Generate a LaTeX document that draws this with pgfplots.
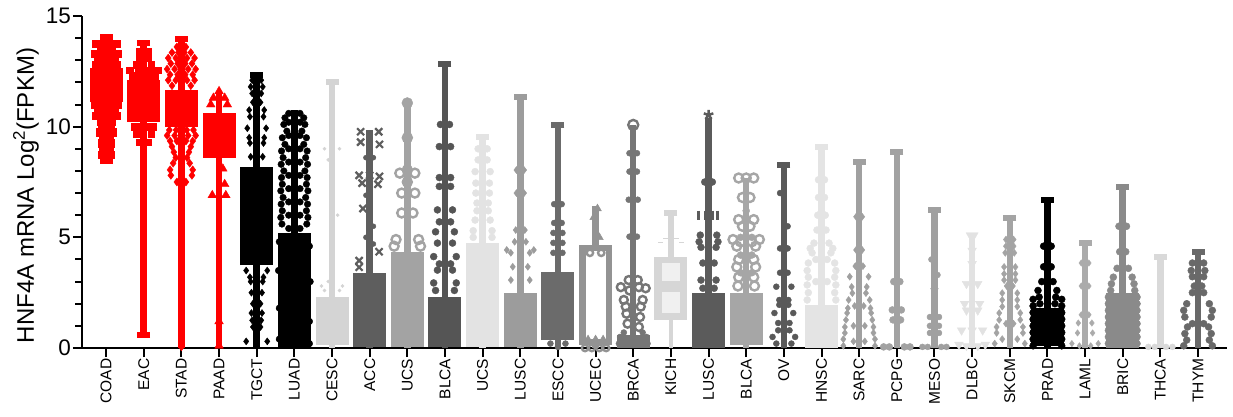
\documentclass[border=0pt]{standalone}
\usepackage{pgfplots}
\pgfplotsset{compat=1.18}
\usepackage{fontspec}
\setmainfont{Liberation Sans}

\definecolor{cRed}{RGB}{255,0,0}
\definecolor{cBlk}{RGB}{0,0,0}
\definecolor{cCESC}{HTML}{D4D4D4}
\definecolor{cACC}{HTML}{5E5E5E}
\definecolor{cUCSa}{HTML}{A3A3A3}
\definecolor{cBLCAa}{HTML}{555555}
\definecolor{cUCSb}{HTML}{E3E3E3}
\definecolor{cLUSCa}{HTML}{9C9C9C}
\definecolor{cESCC}{HTML}{6B6B6B}
\definecolor{cUCEC}{HTML}{939393}
\definecolor{cBRCA}{HTML}{767676}
\definecolor{cKICH}{HTML}{D6D6D6}
\definecolor{cKICHin}{HTML}{F0F0F0}
\definecolor{cLUSCb}{HTML}{5B5B5B}
\definecolor{cBLCAb}{HTML}{A6A6A6}
\definecolor{cOV}{HTML}{595959}
\definecolor{cHNSC}{HTML}{E4E4E4}
\definecolor{cSARC}{HTML}{A0A0A0}
\definecolor{cPCPG}{HTML}{A2A2A2}
\definecolor{cMESO}{HTML}{A0A0A0}
\definecolor{cDLBC}{HTML}{E2E2E2}
\definecolor{cSKCM}{HTML}{A4A4A4}
\definecolor{cLAML}{HTML}{ABABAB}
\definecolor{cBRIC}{HTML}{8A8A8A}
\definecolor{cTHCA}{HTML}{D9D9D9}
\definecolor{cTHYM}{HTML}{696969}

% whisker: position, min, max, colour
\newcommand{\whisk}[4]{\addplot[color=#4, line width=6.5pt] coordinates {(#1,#2) (#1,#3)};}
% interquartile box: position, Q1, Q3, colour
\newcommand{\bx}[4]{\addplot[color=#4, line width=33pt] coordinates {(#1,#2) (#1,#3)};}
% whisker caps: colour, points
\newcommand{\caps}[2]{\addplot[color=#1, only marks, mark=-, mark size=6.5pt, mark options={line width=6pt}] coordinates {#2};}
% individual samples: colour, mark, size, points
\newcommand{\pts}[4]{\addplot[color=#1, only marks, mark=#2, mark size=#3] coordinates {#4};}
% ring samples: colour, size, points
\newcommand{\rings}[3]{\addplot[color=#1, only marks, mark=o, mark size=#2, mark options={line width=2.4pt}] coordinates {#3};}

\begin{document}
\begin{tikzpicture}
\useasboundingbox (-82pt,-68pt) rectangle (1151pt,348pt);
\begin{axis}[
  at={(0,0)}, anchor=south west,
  scale only axis, width=1145pt, height=332pt,
  xmin=-0.64, xmax=29.77, ymin=0, ymax=15,
  clip=false,
  axis x line*=bottom, axis y line*=left,
  axis line style={line width=2pt, black},
  tick align=outside,
  major tick length=9pt, minor tick length=6.5pt,
  every tick/.style={black, line width=2pt},
  ytick={0,5,10,15}, minor y tick num=4,
  xtick={0,...,29},
  xticklabels={COAD,EAC,STAD,PAAD,TGCT,LUAD,CESC,ACC,UCS,BLCA,UCS,LUSC,ESCC,UCEC,BRCA,KICH,LUSC,BLCA,OV,HNSC,SARC,PCPG,MESO,DLBC,SKCM,PRAD,LAML,BRIC,THCA,THYM},
  xticklabel style={rotate=90, anchor=east, inner sep=1.5pt, font=\fontsize{15.5}{16}\selectfont},
  y tick label style={inner sep=2pt, font=\fontsize{22.5}{24}\selectfont},
  /pgf/number format/assume math mode=true,
  ylabel={HNF4A mRNA Log\textsuperscript{2}(FPKM)},
  ylabel style={at={(axis description cs:-0.049,0.459)}, anchor=center, font=\fontsize{24}{26}\selectfont},
]

% ---------- COAD ----------
\whisk{0}{8.45}{14.05}{cRed}
\bx{0}{11.1}{12.65}{cRed}
\caps{cRed}{(0,8.45) (0,14.05)}
\pts{cRed}{square*}{3.6pt}{(-0.28,12.8)(-0.1,12.8)(0.1,12.8)(0.28,12.8)(-0.22,13.05)(-0.07,13.05)(0.07,13.05)(0.22,13.05)(-0.3,13.3)(-0.1,13.3)(0.1,13.3)(0.3,13.3)(-0.15,13.55)(0,13.55)(0.15,13.55)(-0.28,13.75)(-0.1,13.75)(0.1,13.75)(0.28,13.75)
(-0.3,11.0)(-0.1,11.0)(0.1,11.0)(0.3,11.0)(-0.22,10.75)(-0.07,10.75)(0.07,10.75)(0.22,10.75)(-0.28,10.5)(-0.1,10.5)(0.1,10.5)(0.28,10.5)(-0.15,10.25)(0.15,10.25)(-0.12,10.0)(0.12,10.0)(-0.18,9.75)(0.18,9.75)(-0.1,9.5)(0.1,9.5)(-0.12,9.25)(0.12,9.25)(-0.08,9.0)(0.08,9.0)(-0.12,8.75)(0.12,8.75)}

% ---------- EAC ----------
\whisk{1}{0.59}{13.77}{cRed}
\bx{1}{10.23}{12.11}{cRed}
\caps{cRed}{(1,0.59) (1,13.77)}
\pts{cRed}{square*}{3.4pt}{(0.7,12.3)(0.9,12.3)(1.1,12.3)(1.3,12.3)(0.62,12.55)(0.85,12.55)(1.15,12.55)(1.38,12.55)(0.8,12.8)(1.2,12.8)(0.88,13.1)(1.12,13.1)(0.9,13.4)(1.1,13.4)
(0.75,10.0)(0.92,10.0)(1.08,10.0)(1.25,10.0)(0.8,9.7)(1.2,9.7)(0.9,9.3)(1.1,9.3)}

% ---------- STAD ----------
\whisk{2}{0}{13.95}{cRed}
\bx{2}{10.0}{11.66}{cRed}
\caps{cRed}{(2,13.95)}
\pts{cRed}{diamond*}{4pt}{(1.88,13.6)(2.12,13.6)(1.75,13.35)(1.92,13.35)(2.08,13.35)(2.25,13.35)(1.65,13.1)(1.85,13.1)(2.15,13.1)(2.35,13.1)(1.72,12.85)(1.9,12.85)(2.1,12.85)(2.28,12.85)(1.62,12.6)(1.82,12.6)(2.18,12.6)(2.38,12.6)(1.7,12.35)(1.9,12.35)(2.1,12.35)(2.3,12.35)(1.65,12.1)(1.85,12.1)(2.15,12.1)(2.35,12.1)(1.75,11.85)(2.25,11.85)
(1.68,9.85)(1.86,9.85)(2.14,9.85)(2.32,9.85)(1.62,9.6)(1.82,9.6)(2.18,9.6)(2.38,9.6)(1.7,9.35)(1.88,9.35)(2.12,9.35)(2.3,9.35)(1.75,9.1)(2.25,9.1)(1.8,8.85)(2.2,8.85)(1.85,8.6)(2.15,8.6)(1.78,8.35)(2.22,8.35)(1.7,8.05)(2.3,8.05)(1.72,7.8)(2.28,7.8)(1.88,7.5)(2.12,7.5)(2,7.0)(2,5.5)(2,3.0)(2,0.05)}

% ---------- PAAD ----------
\whisk{3}{0}{11.5}{cRed}
\bx{3}{8.6}{10.6}{cRed}
\pts{cRed}{triangle*}{5pt}{(3,11.6)(2.85,11.3)(3.15,11.3)(2.78,11.0)(3.22,11.0)(3.1,8.1)(3.15,7.4)(2.82,6.9)(3.18,6.9)(3,6.9)(3,1.2)(3,0.1)}

% ---------- TGCT ----------
\whisk{4}{0}{12.34}{cBlk}
\bx{4}{3.75}{8.2}{cBlk}
\caps{cBlk}{(4,12.34)}
\pts{cBlk}{diamond*}{3.5pt}{(3.84,11.8)(4.16,11.8)(3.88,11.5)(4.12,11.5)(3.8,10.75)(4.2,10.75)(3.82,10.45)(4.18,10.45)(3.75,9.93)(4.25,9.93)(3.8,9.5)(4.2,9.5)(3.82,9.26)(4.18,9.26)(3.84,8.64)(4.16,8.64)(3.88,12.1)(4.12,12.1)(3.9,11.1)(4.1,11.1)
(3.72,3.5)(4.28,3.5)(3.82,3.2)(4.18,3.2)(3.84,3.0)(4.16,3.0)(3.86,2.5)(4.14,2.5)(3.9,2.0)(4.1,2.0)(3.86,1.58)(4.14,1.58)(3.9,0.95)(4.1,0.95)(3.72,0.3)(4.28,0.3)(3.88,1.25)(4.12,1.25)}

% ---------- LUAD ----------
\whisk{5}{0}{10.75}{cBlk}
\bx{5}{0}{5.2}{cBlk}
\pts{cBlk}{*}{3.3pt}{(4.85,10.6)(5.15,10.6)(4.75,10.4)(5.25,10.4)(4.72,10.1)(5.28,10.1)(4.8,9.8)(5.2,9.8)(4.68,9.5)(5.32,9.5)(4.75,9.2)(5.25,9.2)(4.66,8.9)(5.34,8.9)(4.7,8.6)(5.3,8.6)(4.65,8.3)(5.35,8.3)(4.72,8.0)(5.28,8.0)(4.66,7.7)(5.34,7.7)(4.68,7.4)(5.32,7.4)(4.64,7.1)(5.36,7.1)(4.7,6.8)(5.3,6.8)(4.65,6.5)(5.35,6.5)(4.68,6.2)(5.32,6.2)(4.64,5.9)(5.36,5.9)(4.67,5.6)(5.33,5.6)
(4.85,10.2)(5.15,10.2)(4.85,9.6)(5.15,9.6)(4.85,9.0)(5.15,9.0)(4.85,8.4)(5.15,8.4)(4.85,7.8)(5.15,7.8)(4.85,7.2)(5.15,7.2)(4.85,6.6)(5.15,6.6)(4.85,6.0)(5.15,6.0)(4.85,5.4)(5.15,5.4)
(4.6,4.8)(5.4,4.6)(4.58,3.5)(5.42,3.0)(4.6,1.8)(5.4,1.2)(4.6,0.4)(5.4,0.2)}

% ---------- CESC ----------
\whisk{6}{0}{12.03}{cCESC}
\bx{6}{0.14}{2.32}{cCESC}
\caps{cCESC}{(6,12.03)}
\pts{cCESC}{*}{1.6pt}{(5.8,9.0)(6.2,9.0)(5.9,8.5)(6.15,6.0)(5.9,3.0)(5.72,2.8)(6.28,2.8)(5.8,2.6)(6.2,2.6)}

% ---------- ACC ----------
\whisk{7}{0}{9.85}{cACC}
\bx{7}{0.06}{3.39}{cACC}
\addplot[color=cACC, only marks, mark=x, mark size=5pt, mark options={line width=2.2pt}] coordinates {(6.76,9.77)(7.24,9.77)(6.76,9.3)(7.26,9.2)(6.72,7.8)(7,7.8)(7.26,7.75)(6.8,7.45)(7.22,7.4)(6.82,6.3)(7.25,4.35)(6.72,3.95)(6.72,3.65)};
\pts{cACC}{*}{2.5pt}{(6.9,8.6)(7.1,8.6)(6.9,6.9)(7.1,5.5)(6.9,5.0)(7.1,4.7)}

% ---------- UCS ----------
\whisk{8}{0}{11.07}{cUCSa}
\bx{8}{0.06}{4.35}{cUCSa}
\pts{cUCSa}{*}{5.5pt}{(8,11.07)}
\rings{cUCSa}{4.5pt}{(8,8.04)(7.8,7.9)(8.2,7.9)(7.85,7.0)(8.2,7.0)(7.85,6.1)(8.15,6.1)(7.7,4.9)(8.3,4.9)(7.65,4.6)(8.35,4.6)(8,9.5)(8,7.5)}

% ---------- BLCA ----------
\whisk{9}{0}{12.83}{cBLCAa}
\bx{9}{0.06}{2.32}{cBLCAa}
\caps{cBLCAa}{(9,12.83)}
\pts{cBLCAa}{*}{3.5pt}{(8.88,10.1)(9.12,10.1)(8.85,9.1)(9.15,9.1)(8.85,7.7)(9.15,7.7)(8.85,7.3)(9.15,7.3)(8.8,6.24)(9.2,6.24)(8.75,5.25)(9.25,5.25)(8.8,4.74)(9.2,4.74)(8.7,4.13)(9.3,4.13)(8.8,3.52)(9.2,3.52)(8.7,2.94)(9.3,2.94)(8.85,5.7)(9.15,5.7)(8.85,3.8)(9.15,3.8)(8.75,2.6)(9.25,2.6)}

% ---------- UCS ----------
\whisk{10}{0}{9.55}{cUCSb}
\bx{10}{0.06}{4.74}{cUCSb}
\caps{cUCSb}{(10,9.55)}
\pts{cUCSb}{*}{3.5pt}{(9.88,8.5)(10.12,8.5)(9.8,7.97)(10.2,7.97)(9.82,7.45)(10.18,7.45)(9.82,7.0)(10.18,7.0)(9.85,6.55)(10.15,6.55)(9.8,5.78)(10.2,5.78)(9.75,5.3)(10.25,5.3)(9.75,5.0)(10.25,5.0)(9.85,6.2)(10.15,6.2)(9.88,9.0)(10.12,9.0)}

% ---------- LUSC ----------
\whisk{11}{0}{11.36}{cLUSCa}
\bx{11}{0.06}{2.48}{cLUSCa}
\caps{cLUSCa}{(11,11.36)}
\pts{cLUSCa}{diamond*}{3.5pt}{(10.9,8.04)(11.1,8.04)(10.88,5.33)(11.12,5.33)(10.64,4.43)(11.36,4.43)(10.75,4.3)(11.25,4.3)(10.8,3.67)(11.2,3.67)(10.75,3.07)(11.25,3.07)(10.9,7.0)(11.1,7.0)(10.85,4.8)(11.15,4.8)}

% ---------- ESCC ----------
\whisk{12}{0}{10.08}{cESCC}
\bx{12}{0.36}{3.45}{cESCC}
\caps{cESCC}{(12,10.08)}
\pts{cESCC}{*}{3pt}{(11.9,5.65)(12.1,5.65)(11.88,5.2)(12.12,5.2)(11.88,4.75)(12.12,4.75)(11.88,4.3)(12.12,4.3)(11.9,6.5)(12.1,6.5)(11.8,0.2)(12.2,0.2)(12,0.05)}

% ---------- UCEC (open box) ----------
\whisk{13}{0}{6.4}{cUCEC}
\bx{13}{0.14}{4.65}{cUCEC}
\addplot[color=white, line width=20pt] coordinates {(13,0.42) (13,4.37)};
\pts{cUCEC}{triangle*}{4.5pt}{(13.05,6.3)(12.95,5.9)(13.1,5.0)}
\rings{cUCEC}{3.2pt}{(12.72,0)(12.9,0)(13.1,0)(13.28,0)(12.85,4.3)(13.15,4.3)}
\pts{cUCEC}{triangle*}{3pt}{(12.8,0.45)(13.0,0.45)(13.2,0.45)}

% ---------- BRCA ----------
\whisk{14}{0}{10.08}{cBRCA}
\bx{14}{0}{0.6}{cBRCA}
\rings{cBRCA}{5pt}{(14,10.08)}
\pts{cBRCA}{*}{3pt}{(13.9,7.97)(14.1,7.97)(13.88,6.7)(14.12,6.7)(13.9,5.03)(14.1,5.03)(13.9,8.8)(14.1,8.8)
(13.65,0.5)(14.35,0.5)(13.62,0.2)(14.38,0.2)(13.8,0.3)(14.2,0.3)(13.75,0.7)(14.25,0.7)(14,0.4)}
\rings{cBRCA}{4pt}{(13.88,3.07)(14.12,3.07)(13.67,2.75)(13.9,2.6)(14.15,2.75)(14.33,2.7)(13.75,2.17)(14.25,2.17)(13.8,1.87)(14.2,1.87)(13.82,1.55)(14.18,1.4)(13.85,1.1)(14.15,0.95)}

% ---------- KICH ----------
\addplot[color=cKICH, line width=6.5pt] coordinates {(15,4.12) (15,6.1)};
\addplot[color=cKICH, line width=4pt] coordinates {(15,0) (15,1.27)};
\bx{15}{1.27}{4.12}{cKICH}
\addplot[color=cKICHin, line width=18pt] coordinates {(15,3.03) (15,3.84)};
\addplot[color=cKICHin, line width=18pt] coordinates {(15,1.58) (15,2.54)};
\caps{cKICH}{(15,6.1)}
\pts{cKICH}{-}{2.5pt}{(14.72,4.8)(15.28,4.8)(14.86,4.95)(15.14,4.95)}

% ---------- LUSC ----------
\whisk{16}{0}{10.4}{cLUSCb}
\bx{16}{0}{2.48}{cLUSCb}
\addplot[color=cLUSCb, only marks, mark=star, mark size=5pt, mark options={line width=2.5pt}] coordinates {(16,10.53)};
\addplot[color=cLUSCb, only marks, mark=|, mark size=4.5pt, mark options={line width=2.5pt}] coordinates {(15.73,6.0)(15.92,6.0)(16.1,6.0)(16.24,6.0)};
\pts{cLUSCb}{*}{3.5pt}{(15.78,5.1)(16.22,5.1)(15.75,4.8)(16.25,4.8)(15.8,4.55)(16.2,4.55)(15.85,3.84)(16.15,3.84)(15.8,3.07)(16.2,3.07)(15.9,7.5)(16.1,7.5)(15.85,2.7)(16.15,2.7)}

% ---------- BLCA ----------
\whisk{17}{0}{7.68}{cBLCAb}
\bx{17}{0.14}{2.48}{cBLCAb}
\pts{cBLCAb}{*}{3.5pt}{(17,6.2)(16.85,5.0)(17.15,5.0)(16.85,4.2)(17.15,4.2)(16.85,3.4)(17.15,3.4)}
\rings{cBLCAb}{4.5pt}{(16.8,7.68)(17,7.68)(17.2,7.68)(16.9,6.8)(17.1,6.8)(16.8,5.8)(17.2,5.8)(16.9,5.5)(17.1,5.5)(16.65,4.9)(16.85,4.8)(17.15,4.8)(17.35,4.9)(16.75,4.6)(17.25,4.6)(16.8,4.0)(17.2,4.0)(16.75,3.66)(17.25,3.66)(16.8,3.2)(17.2,3.2)(16.78,2.8)(17.22,2.8)}

% ---------- OV ----------
\whisk{18}{0}{8.27}{cOV}
\caps{cOV}{(18,8.27)}
\pts{cOV}{*}{3pt}{(17.9,3.4)(18.1,3.4)(17.8,2.77)(18.2,2.77)(17.88,2.17)(18.12,2.17)(17.88,1.95)(18.12,1.95)(17.75,1.58)(18.25,1.58)(17.85,1.13)(18.15,1.13)(17.85,0.8)(18.15,0.8)(17.7,0.5)(18.3,0.5)(17.8,0.2)(18.2,0.2)(17.9,4.5)(18.1,4.5)(17.9,7.0)(18.1,5.5)}

% ---------- HNSC ----------
\whisk{19}{0}{9.1}{cHNSC}
\bx{19}{0}{1.95}{cHNSC}
\caps{cHNSC}{(19,9.1)}
\pts{cHNSC}{*}{3.5pt}{(18.88,5.33)(19.12,5.33)(18.8,4.74)(19.2,4.74)(18.7,4.5)(19.3,4.5)(18.75,4.3)(19.25,4.3)(18.65,3.84)(19.35,3.84)(18.62,3.5)(19.38,3.5)(18.65,3.2)(19.35,3.2)(18.62,2.85)(19.38,2.85)(18.65,2.5)(19.35,2.5)(18.62,2.17)(19.38,2.17)(18.85,3.0)(19.15,3.0)(18.85,4.0)(19.15,4.0)(18.9,6.0)(19.1,6.0)(18.92,6.8)(19.08,6.8)(18.92,7.6)(19.08,7.6)}

% ---------- SARC ----------
\whisk{20}{0}{8.42}{cSARC}
\caps{cSARC}{(20,8.42)}
\pts{cSARC}{diamond*}{3.5pt}{(19.92,5.93)(20.08,5.93)(19.92,4.43)(20.08,4.43)(19.75,3.22)(20.25,3.22)(19.8,2.76)(20.2,2.76)(19.82,2.48)(20.18,2.48)(19.72,2.17)(20.28,2.17)(19.7,1.8)(20.3,1.8)(19.68,1.58)(20.32,1.58)(19.65,1.27)(20.35,1.27)(19.62,0.95)(20.38,0.95)(19.62,0.68)(20.38,0.68)(19.58,0.4)(20.42,0.4)(19.58,0.1)(20.42,0.1)(19.85,0.3)(20.15,0.3)(19.85,1.0)(20.15,1.0)(19.88,1.9)(20.12,1.9)(19.9,3.7)(20.1,3.7)}

% ---------- PCPG ----------
\whisk{21}{0}{8.87}{cPCPG}
\caps{cPCPG}{(21,8.87)}
\pts{cPCPG}{*}{3.5pt}{(20.88,1.72)(21.12,1.72)(20.9,1.27)(21.1,1.27)(20.65,0.05)(20.8,0.05)(21.2,0.05)(21.35,0.05)(20.92,3.0)(21.08,3.0)}

% ---------- MESO ----------
\whisk{22}{0}{6.24}{cMESO}
\caps{cMESO}{(22,6.24)}
\pts{cMESO}{triangle*}{4.5pt}{(22,2.77)}
\pts{cMESO}{*}{3pt}{(21.88,1.4)(22.12,1.4)(21.88,1.0)(22.12,1.0)(21.88,0.68)(22.12,0.68)(21.68,0.05)(21.82,0.05)(22.18,0.05)(22.32,0.05)(21.92,4.0)(22.08,3.3)}

% ---------- DLBC ----------
\whisk{23}{0}{5.0}{cDLBC}
\addplot[color=cDLBC, only marks, mark=triangle*, mark size=7pt, mark options={rotate=180}] coordinates {(23,5.05)};
\addplot[color=cDLBC, only marks, mark=triangle*, mark size=5pt, mark options={rotate=180}] coordinates {(22.85,2.9)(23.15,2.9)(22.8,2.0)(23.2,2.0)(22.85,1.7)(23.15,1.7)(22.72,0.8)(23.28,0.8)(23,0.8)(22.65,0.15)(22.85,0.1)(23.15,0.1)(23.35,0.15)(23,3.8)(23,4.4)};

% ---------- SKCM ----------
\whisk{24}{0}{5.87}{cSKCM}
\caps{cSKCM}{(24,5.87)}
\pts{cSKCM}{diamond*}{3.5pt}{(23.9,4.9)(24.1,4.9)(23.9,4.6)(24.1,4.6)(23.88,4.3)(24.12,4.3)(23.85,3.66)(24.15,3.66)(23.85,3.35)(24.15,3.35)(23.85,3.07)(24.15,3.07)(23.8,2.48)(24.2,2.48)(23.8,2.17)(24.2,2.17)(23.8,1.87)(24.2,1.87)(23.72,1.58)(24.28,1.58)(23.72,1.27)(24.28,1.27)(23.65,0.95)(24.35,0.95)(23.65,0.68)(24.35,0.68)(23.6,0.2)(24.4,0.2)(23.8,0.4)(24.2,0.4)(23.9,1.1)(24.1,1.1)(23.92,2.8)(24.08,2.8)}

% ---------- PRAD ----------
\whisk{25}{0}{6.69}{cBlk}
\bx{25}{0.1}{1.8}{cBlk}
\caps{cBlk}{(25,6.69)}
\pts{cBlk}{*}{3.5pt}{(24.9,3.67)(25.1,3.67)(24.9,4.6)(25.1,4.6)(24.75,2.6)(25.25,2.6)(24.78,2.3)(25.22,2.3)(24.62,2.2)(25.38,2.2)(24.62,1.9)(25.38,1.9)(24.62,1.6)(25.38,1.6)(24.62,1.3)(25.38,1.3)(24.62,1.0)(25.38,1.0)(24.62,0.7)(25.38,0.7)(24.62,0.4)(25.38,0.4)(24.62,0.1)(25.38,0.1)(24.8,2.0)(25.2,2.0)(24.85,3.0)(25.15,3.0)}

% ---------- LAML ----------
\whisk{26}{0}{4.73}{cLAML}
\caps{cLAML}{(26,4.73)}
\pts{cLAML}{diamond*}{3.2pt}{(25.9,3.84)(26.1,3.84)(25.82,1.13)(26.18,1.13)(25.8,0.68)(26.2,0.68)(25.65,0.2)(26.35,0.2)(25.85,0.1)(26.15,0.1)(25.9,2.8)(26.1,2.8)(25.9,1.5)(26.1,1.5)}

% ---------- BRIC ----------
\whisk{27}{0}{7.29}{cBRIC}
\bx{27}{0}{2.5}{cBRIC}
\caps{cBRIC}{(27,7.29)}
\pts{cBRIC}{*}{3.5pt}{(26.92,4.35)(27.08,4.35)(26.75,3.2)(27.25,3.2)(26.7,2.9)(27.3,2.9)(26.68,2.6)(27.32,2.6)(26.62,2.3)(27.38,2.3)(26.62,2.0)(27.38,2.0)(26.62,1.7)(27.38,1.7)(26.62,1.4)(27.38,1.4)(26.62,1.1)(27.38,1.1)(26.62,0.8)(27.38,0.8)(26.62,0.5)(27.38,0.5)(26.62,0.2)(27.38,0.2)(26.9,5.5)(27.1,5.5)(26.85,3.6)(27.15,3.6)}

% ---------- THCA ----------
\whisk{28}{0}{4.12}{cTHCA}
\caps{cTHCA}{(28,4.12)}
\pts{cTHCA}{*}{3pt}{(28,2.0)(27.68,0.05)(27.85,0.05)(28.15,0.05)(28.32,0.05)}

% ---------- THYM ----------
\whisk{29}{0}{4.35}{cTHYM}
\caps{cTHYM}{(29,4.35)}
\pts{cTHYM}{*}{3.5pt}{(28.85,3.84)(29.15,3.84)(28.82,3.5)(29.18,3.5)(28.85,3.22)(29.15,3.22)(28.7,2.0)(29.3,2.0)(28.62,1.7)(29.38,1.7)(28.65,1.4)(29.35,1.4)(28.72,0.95)(29.28,0.95)(28.65,0.65)(29.35,0.65)(28.7,0.36)(29.3,0.36)(28.62,0.1)(29.38,0.1)(28.85,2.5)(29.15,2.5)(28.85,1.1)(29.15,1.1)(28.9,2.8)(29.1,2.8)}

\end{axis}
\end{tikzpicture}
\end{document}
